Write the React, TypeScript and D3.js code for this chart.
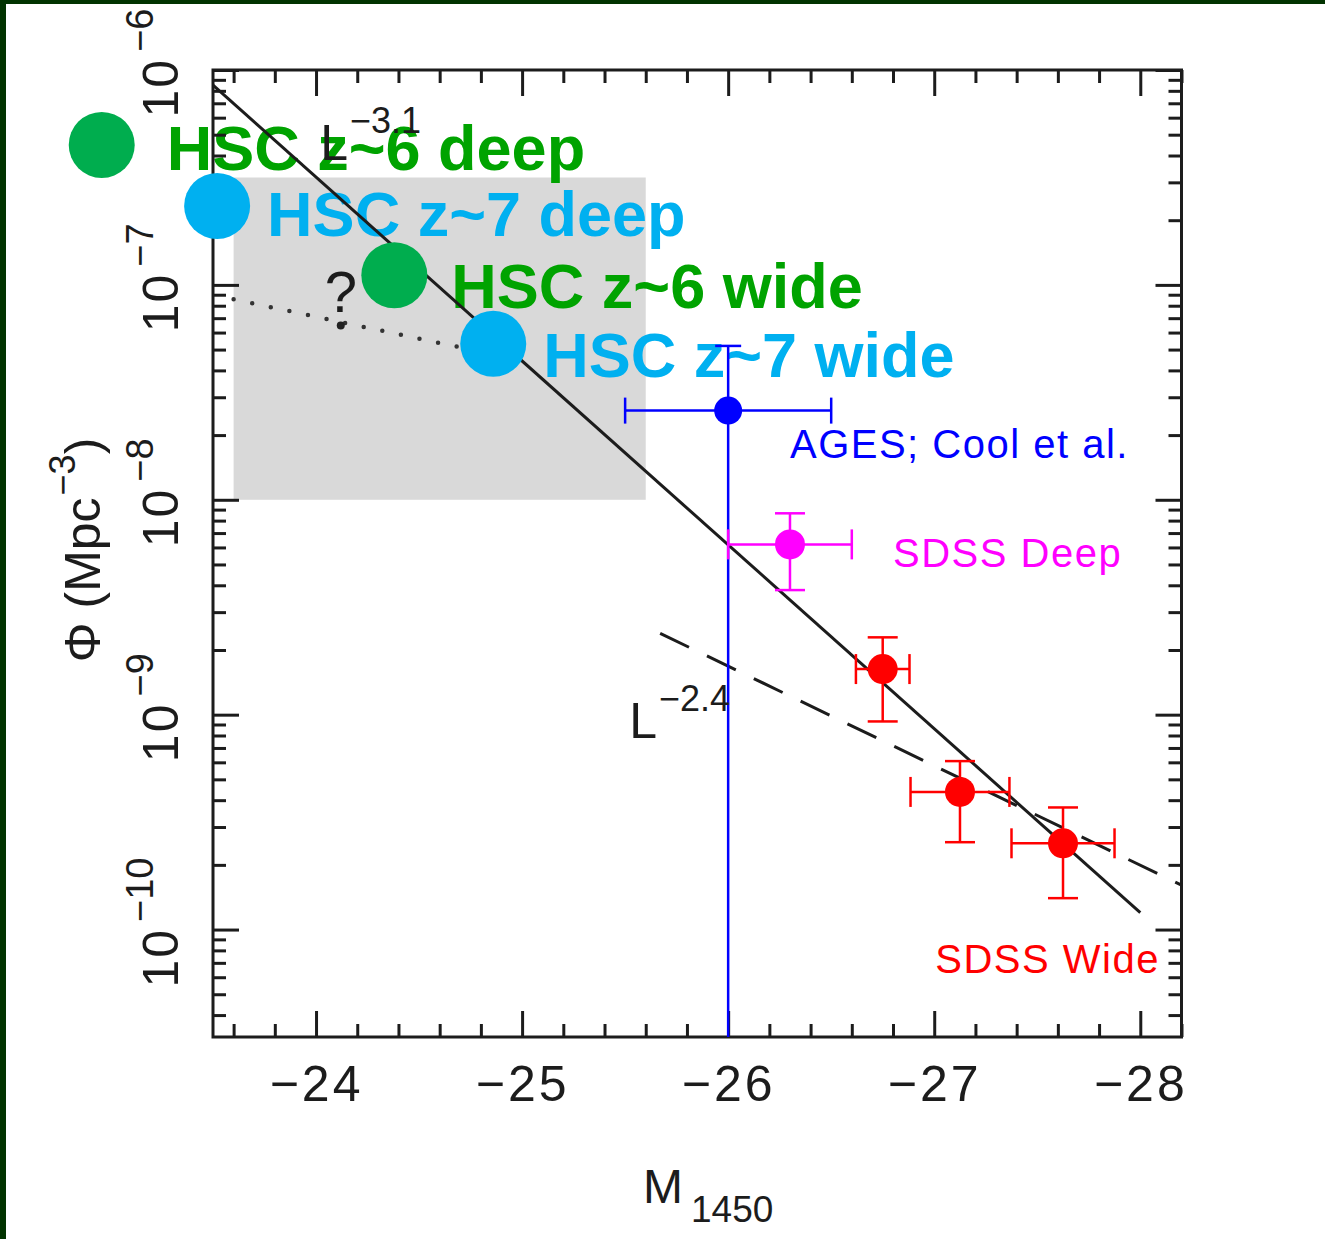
import { useEffect, useRef } from 'react';
import * as d3 from 'd3';

const W = 1325;
const H = 1239;

// axis ticks
const xMajor = [-24, -25, -26, -27, -28];
const yMajorExp = [-6, -7, -8, -9, -10];

// measured luminosity-function points (M1450, phi, half-width in M, upper / lower phi)
const agesData = [{ m: -26.0, phi: 2.6e-8, dm: 0.5, hi: 5.2e-8, lo: 1e-11 }];
const sdssDeepData = [{ m: -26.3, phi: 6.2e-9, dm: 0.3, hi: 8.65e-9, lo: 3.8e-9 }];
const sdssWideData = [
  { m: -26.75, phi: 1.63e-9, dm: 0.13, hi: 2.29e-9, lo: 9.3e-10 },
  { m: -27.125, phi: 4.37e-10, dm: 0.24, hi: 6.08e-10, lo: 2.55e-10 },
  { m: -27.625, phi: 2.52e-10, dm: 0.25, hi: 3.7e-10, lo: 1.4e-10 },
];

// power laws
const steepLine: [number, number][] = [[-23.5, 8.5e-7], [-28.0, 1.2e-10]];
const shallowLine: [number, number][] = [[-25.67, 2.39e-9], [-28.2, 1.61e-10]];
const dottedLine: [number, number][] = [[-23.6, 8.57e-8], [-24.75, 5.0e-8]];
const questionPoint: [number, number] = [-24.12, 6.47e-8];

// shaded region
const greyBoxM = [-23.6, -25.6];
const greyBoxPhi = [1e-8, 3.16e-7];

// HSC survey limits
const hscNames = ['HSC z~6 deep', 'HSC z~7 deep', 'HSC z~6 wide', 'HSC z~7 wide'];
const hscM = [-22.96, -23.52, -24.38, -24.86];
const hscPhi = [4.48e-7, 2.33e-7, 1.11e-7, 5.32e-8];
const hscKind = ['z6', 'z7', 'z6', 'z7'];
const hscLabelDx = [65, 50, 57, 50];
const hscLabelDy = [25, 30, 33, 33];

// text annotations in data coordinates
const notes = [
  { text: 'AGES; Cool et al.', m: -26.3, phi: 1.56e-8, color: '#0000ff' },
  { text: 'SDSS Deep', m: -26.8, phi: 4.85e-9, color: '#ff00ff' },
  { text: 'SDSS Wide', m: -27.005, phi: 6.3e-11, color: '#ff0000' },
];

const font = '"Liberation Sans", Arial, Helvetica, sans-serif';
const ink = '#1c1c1c';

export default function App() {
  const svgRef = useRef<SVGSVGElement>(null);

  useEffect(() => {
    if (!svgRef.current) return;
    const svg = d3.select(svgRef.current);
    svg.selectAll('*').remove();

    const x = d3.scaleLinear().domain([-23.5, -28.2]).range([213, 1181.5]);
    const y = d3.scaleLog().domain([Math.pow(10, -10.5), 1e-6]).range([1037, 70]);
    const [y0, y1] = y.range();
    const phiMin = y.domain()[0];

    svg.append('rect').attr('width', W).attr('height', H).attr('fill', '#fff');

    // grey box
    svg
      .append('rect')
      .attr('x', x(greyBoxM[0]))
      .attr('y', y(greyBoxPhi[1]))
      .attr('width', x(greyBoxM[1]) - x(greyBoxM[0]))
      .attr('height', y(greyBoxPhi[0]) - y(greyBoxPhi[1]))
      .attr('fill', '#d9d9d9');

    // HSC labels (under the plot lines)
    hscNames.forEach((name, i) => {
      svg
        .append('text')
        .attr('x', x(hscM[i]) + hscLabelDx[i])
        .attr('y', y(hscPhi[i]) + hscLabelDy[i])
        .attr('font-family', font)
        .attr('font-weight', 'bold')
        .attr('font-size', 63)
        .attr('fill', hscKind[i] === 'z6' ? '#00a300' : '#00b0f0')
        .text(name);
    });

    // axes: minor + major ticks on all four sides, pointing inward
    const minorX = d3.range(-23.6, -28.21, -0.2).filter((v) => Math.abs(v - Math.round(v)) > 0.01);
    const minorY: number[] = [];
    for (let e = -11; e <= -7; e++) {
      for (let k = 2; k <= 9; k++) {
        const v = k * Math.pow(10, e);
        if (v > y.domain()[0] && v < y.domain()[1]) minorY.push(v);
      }
    }
    const majorY = yMajorExp.map((e) => Math.pow(10, e));

    const axes: [d3.Axis<any>, string][] = [
      [d3.axisBottom(x).tickValues(minorX).tickSize(-13).tickFormat(() => ''), `translate(0,${y0})`],
      [d3.axisTop(x).tickValues(minorX).tickSize(-13).tickFormat(() => ''), `translate(0,${y1})`],
      [d3.axisTop(x).tickValues(xMajor).tickSize(-26).tickFormat(() => ''), `translate(0,${y1})`],
      [d3.axisLeft(y).tickValues(minorY).tickSize(-13).tickFormat(() => ''), `translate(${x.range()[0]},0)`],
      [d3.axisLeft(y).tickValues(majorY).tickSize(-26).tickFormat(() => ''), `translate(${x.range()[0]},0)`],
      [d3.axisRight(y).tickValues(minorY).tickSize(-13).tickFormat(() => ''), `translate(${x.range()[1]},0)`],
      [d3.axisRight(y).tickValues(majorY).tickSize(-26).tickFormat(() => ''), `translate(${x.range()[1]},0)`],
    ];
    axes.forEach(([ax, tr]) => {
      const g = svg.append('g').attr('transform', tr).call(ax);
      g.select('.domain').remove();
      g.selectAll('line').attr('stroke', ink).attr('stroke-width', 3);
    });

    const bx = svg
      .append('g')
      .attr('transform', `translate(0,${y0})`)
      .call(
        d3
          .axisBottom(x)
          .tickValues(xMajor)
          .tickSize(-26)
          .tickPadding(28)
          .tickFormat((d) => `\u2212${Math.abs(+d)}`)
      );
    bx.select('.domain').remove();
    bx.selectAll('line').attr('stroke', ink).attr('stroke-width', 3);
    bx.selectAll('text')
      .attr('font-size', 50)
      .attr('font-family', font)
      .attr('fill', ink)
      .attr('letter-spacing', 3);

    // frame
    svg
      .append('rect')
      .attr('x', x.range()[0])
      .attr('y', y1)
      .attr('width', x.range()[1] - x.range()[0])
      .attr('height', y0 - y1)
      .attr('fill', 'none')
      .attr('stroke', ink)
      .attr('stroke-width', 3);

    const line = d3
      .line<[number, number]>()
      .x((d) => x(d[0]))
      .y((d) => y(d[1]));

    svg.append('path').attr('d', line(steepLine)).attr('stroke', ink).attr('stroke-width', 3).attr('fill', 'none');
    svg
      .append('path')
      .attr('d', line(shallowLine))
      .attr('stroke', ink)
      .attr('stroke-width', 3)
      .attr('stroke-dasharray', '32,20')
      .attr('fill', 'none');
    svg
      .append('path')
      .attr('d', line(dottedLine))
      .attr('stroke', '#333')
      .attr('stroke-width', 4.5)
      .attr('stroke-linecap', 'round')
      .attr('stroke-dasharray', '0,19')
      .attr('fill', 'none');
    svg
      .append('circle')
      .attr('cx', x(questionPoint[0]))
      .attr('cy', y(questionPoint[1]))
      .attr('r', 4)
      .attr('fill', '#222');
    svg
      .append('text')
      .attr('x', x(questionPoint[0]))
      .attr('y', y(questionPoint[1]) - 14)
      .attr('text-anchor', 'middle')
      .attr('font-family', font)
      .attr('font-size', 58)
      .attr('fill', ink)
      .text('?');

    // error bars + points (drawn over the axis ticks)
    const drawSeries = (
      data: { m: number; phi: number; dm: number; hi: number; lo: number }[],
      color: string,
      r: number,
      cap: number
    ) => {
      const g = svg.append('g').attr('stroke', color).attr('stroke-width', 2.5).attr('fill', 'none');
      data.forEach((d) => {
        const cx = x(d.m);
        const cy = y(d.phi);
        const xl = x(d.m + d.dm);
        const xr = x(d.m - d.dm);
        const yt = y(d.hi);
        const offScale = d.lo <= phiMin;
        const yb = offScale ? y0 : y(d.lo);
        g.append('line').attr('x1', xl).attr('x2', xr).attr('y1', cy).attr('y2', cy);
        g.append('line').attr('x1', cx).attr('x2', cx).attr('y1', yt).attr('y2', yb);
        g.append('line').attr('x1', xl).attr('x2', xl).attr('y1', cy - cap).attr('y2', cy + cap);
        g.append('line').attr('x1', xr).attr('x2', xr).attr('y1', cy - cap).attr('y2', cy + cap);
        g.append('line').attr('x1', cx - cap).attr('x2', cx + cap).attr('y1', yt).attr('y2', yt);
        if (!offScale) {
          g.append('line').attr('x1', cx - cap).attr('x2', cx + cap).attr('y1', yb).attr('y2', yb);
        }
        svg.append('circle').attr('cx', cx).attr('cy', cy).attr('r', r).attr('fill', color);
      });
    };
    drawSeries(agesData, '#0000ff', 14, 13);
    drawSeries(sdssDeepData, '#ff00ff', 15, 15);
    drawSeries(sdssWideData, '#ff0000', 15, 15);

    // y tick labels, rotated
    yMajorExp.forEach((e) => {
      const t = svg
        .append('text')
        .attr('transform', `translate(178,${y(Math.pow(10, e)) - 7}) rotate(-90)`)
        .attr('text-anchor', 'middle')
        .attr('font-family', font)
        .attr('font-size', 50)
        .attr('fill', ink);
      t.append('tspan').attr('letter-spacing', 2).text('10');
      t.append('tspan').attr('font-size', 38).attr('dx', 6).attr('dy', -25).text(`\u2212${-e}`);
    });

    // axis titles
    const yt = svg
      .append('text')
      .attr('transform', 'translate(100,550) rotate(-90)')
      .attr('text-anchor', 'middle')
      .attr('font-family', font)
      .attr('font-size', 50)
      .attr('fill', ink);
    yt.append('tspan').text('\u03a6  (Mpc');
    yt.append('tspan').attr('font-size', 36).attr('dx', 2).attr('dy', -25).text('\u22123');
    yt.append('tspan').attr('dy', 25).text(')');

    const xt = svg
      .append('text')
      .attr('x', 643)
      .attr('y', 1203)
      .attr('font-family', font)
      .attr('font-size', 48)
      .attr('fill', ink);
    xt.append('tspan').text('M');
    xt.append('tspan').attr('font-size', 37).attr('dx', 8).attr('dy', 19).text('1450');

    // power-law labels
    const powerLabel = (m: number, phi: number, exp: string) => {
      const t = svg
        .append('text')
        .attr('x', x(m))
        .attr('y', y(phi))
        .attr('font-family', font)
        .attr('font-size', 50)
        .attr('fill', ink);
      t.append('tspan').text('L');
      t.append('tspan').attr('font-size', 36).attr('dx', 2).attr('dy', -27).text(exp);
    };
    powerLabel(-24.02, 3.81e-7, '\u22123.1');
    powerLabel(-25.52, 7.78e-10, '\u22122.4');

    notes.forEach((n) => {
      svg
        .append('text')
        .attr('x', x(n.m))
        .attr('y', y(n.phi))
        .attr('font-family', font)
        .attr('font-size', 40)
        .attr('letter-spacing', 1.5)
        .attr('fill', n.color)
        .text(n.text);
    });

    // HSC markers on top
    hscNames.forEach((_, i) => {
      svg
        .append('circle')
        .attr('cx', x(hscM[i]))
        .attr('cy', y(hscPhi[i]))
        .attr('r', 33)
        .attr('fill', hscKind[i] === 'z6' ? '#00ad4e' : '#00b0f0');
    });

    // dark green slide edge
    svg.append('rect').attr('x', 0).attr('y', 0).attr('width', 6).attr('height', H).attr('fill', '#013300');
    svg.append('rect').attr('x', 0).attr('y', 0).attr('width', W).attr('height', 4).attr('fill', '#013300');
  }, []);

  return (
    <svg
      ref={svgRef}
      width={W}
      height={H}
      style={{ position: 'absolute', left: 0, top: 0, display: 'block' }}
    />
  );
}
